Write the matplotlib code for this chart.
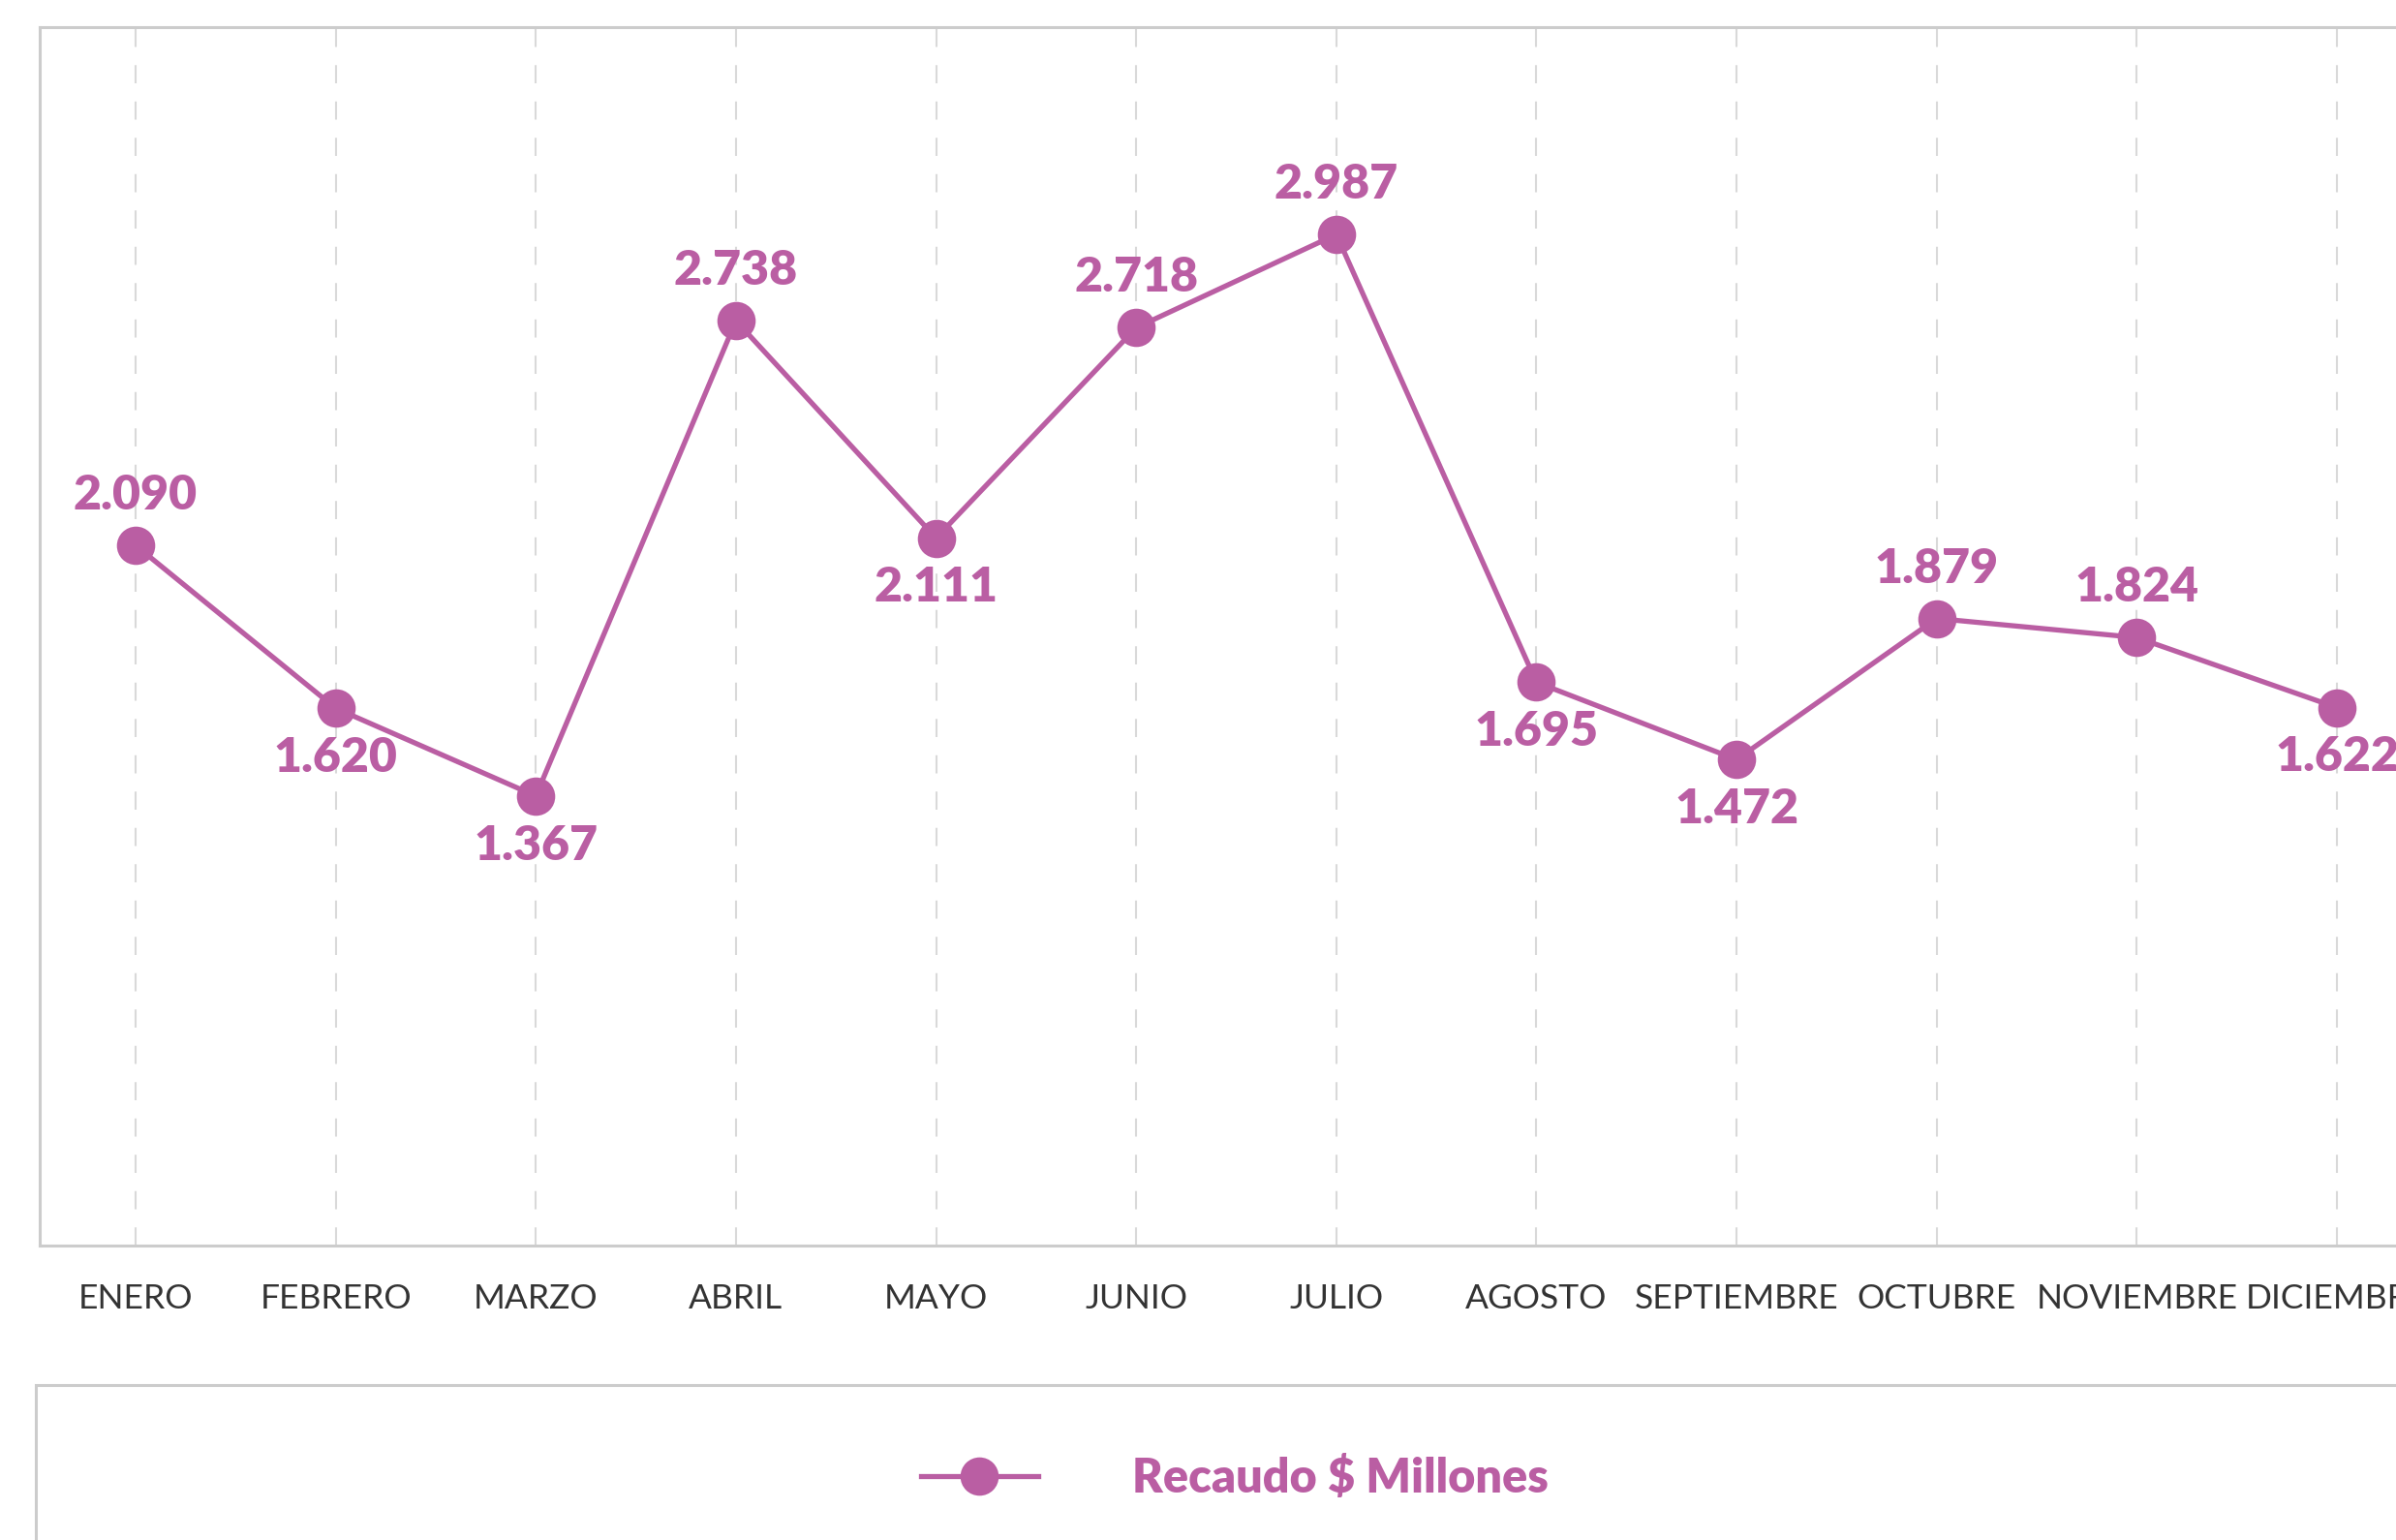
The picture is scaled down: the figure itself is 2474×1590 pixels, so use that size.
import matplotlib
matplotlib.use("Agg")
import matplotlib.pyplot as plt
from matplotlib.patches import Rectangle

months = ["ENERO", "FEBRERO", "MARZO", "ABRIL", "MAYO", "JUNIO", "JULIO",
          "AGOSTO", "SEPTIEMBRE", "OCTUBRE", "NOVIEMBRE", "DICIEMBRE"]
recaudo = [2.090, 1.620, 1.367, 2.738, 2.111, 2.718, 2.987,
           1.695, 1.472, 1.879, 1.824, 1.622]
label_above = [True, False, False, True, False, True, True,
               False, False, True, True, False]
series_name = "Recaudo $ Millones"

PURPLE = "#BA5EA3"
GRID = "#D9D9D9"
FRAME = "#CCCCCC"
TEXT = "#333333"

W, H = 2474, 1590
fig = plt.figure(figsize=(W / 100, H / 100), dpi=100)

left, right, top, bottom = 41, 2512, 28, 1286
ax = fig.add_axes([left / W, 1 - bottom / H, (right - left) / W, (bottom - top) / H])

x = list(range(len(months)))
line, = ax.plot(x, recaudo, color=PURPLE, lw=3.8, marker="o", ms=28.5,
                markeredgewidth=0, label=series_name, zorder=3)

ax.set_xlim(-0.479, len(months) - 1 + 0.479)
ax.set_ylim(0.07, 3.585)
ax.set_yticks([])
ax.set_xticks(x)
ax.set_xticklabels(months, fontsize=25.5, color=TEXT, fontweight="normal",
                   family=["Lato", "DejaVu Sans"])
ax.tick_params(axis="x", length=0, pad=28)
ax.grid(axis="x", color=GRID, lw=1.5, ls=(0, (9, 9)))
for s in ax.spines.values():
    s.set_color(FRAME)
    s.set_linewidth(2.2)

for xi, v, up in zip(x, recaudo, label_above):
    ax.annotate(f"{v:.3f}", (xi, v), xytext=(0, 37 if up else -37),
                textcoords="offset points", ha="center", va="center",
                fontsize=36, fontweight="heavy", color=PURPLE,
                family=["Lato", "DejaVu Sans"], zorder=4)

# legend box
fig.patches.append(Rectangle((37 / W, -0.1), (W + 100) / W, 1 - 1430 / H + 0.1,
                             transform=fig.transFigure, fill=False,
                             edgecolor=FRAME, lw=2.2))
fig.legend(handles=[line], loc="center",
           bbox_to_anchor=(1275 / W, 1 - 1526 / H), frameon=False,
           handlelength=2.5, handletextpad=2.0, borderpad=0,
           prop={"family": ["Lato", "DejaVu Sans"], "weight": "heavy", "size": 35},
           labelcolor=PURPLE)

fig.savefig("out.png", dpi=100)
